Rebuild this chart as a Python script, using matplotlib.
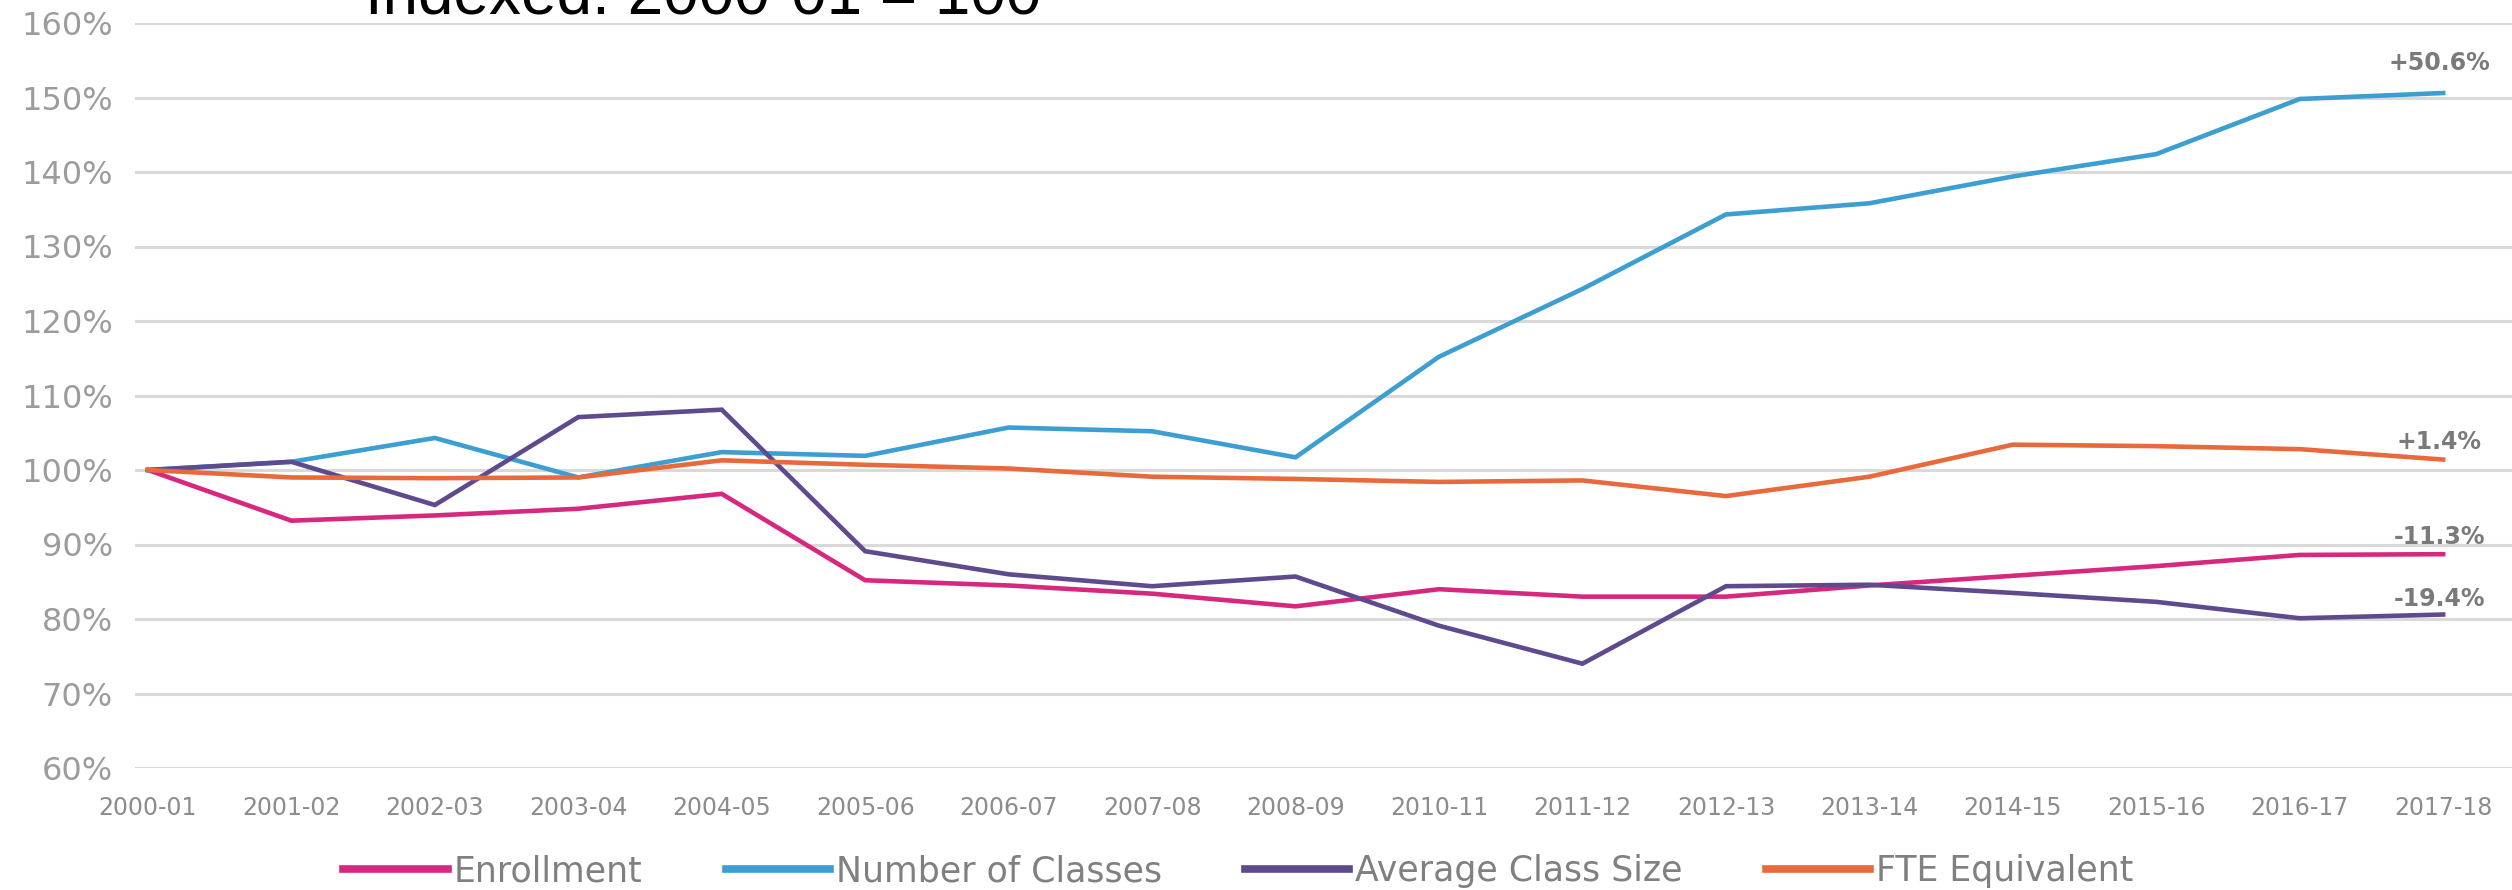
import matplotlib
matplotlib.use("Agg")
import matplotlib.pyplot as plt

# School years (2009-10 is not in the series)
years = ["2000-01", "2001-02", "2002-03", "2003-04", "2004-05", "2005-06",
         "2006-07", "2007-08", "2008-09", "2010-11", "2011-12", "2012-13",
         "2013-14", "2014-15", "2015-16", "2016-17", "2017-18"]

# Indexed values, 2000-01 = 100
enrollment = [100, 93.2, 93.9, 94.8, 96.8, 85.2, 84.5, 83.4, 81.7, 84.0,
              83.0, 83.0, 84.5, 85.8, 87.1, 88.6, 88.7]
num_classes = [100, 101.1, 104.3, 99.0, 102.4, 101.9, 105.7, 105.2, 101.7,
               115.2, 124.3, 134.3, 135.8, 139.4, 142.4, 149.8, 150.6]
avg_class_size = [100, 101.1, 95.3, 107.1, 108.1, 89.1, 86.0, 84.4, 85.7,
                  79.1, 74.0, 84.4, 84.6, 83.5, 82.3, 80.1, 80.6]
fte_equiv = [100, 99.0, 98.9, 99.0, 101.3, 100.7, 100.2, 99.1, 98.8, 98.4,
             98.6, 96.5, 99.1, 103.4, 103.2, 102.8, 101.4]

series_names = ["Enrollment", "Number of Classes", "Average Class Size", "FTE Equivalent"]
series_vals = [enrollment, num_classes, avg_class_size, fte_equiv]
series_colors = ["#d6287f", "#3d9fd1", "#5f4a8e", "#e86a3c"]
# vertical offset (px) of the end label above the last point
label_dy = [17, 30, 16, 18]

yticks = list(range(60, 161, 10))

fig = plt.figure(figsize=(25.12, 8.90), dpi=100)
ax = fig.add_axes([135/2512, 122/890, 1 - 135/2512, 745/890])

x = list(range(len(years)))
for name, vals, col, dy in zip(series_names, series_vals, series_colors, label_dy):
	ax.plot(x, vals, color=col, linewidth=3.3, solid_joinstyle="miter", zorder=3)
	change = vals[-1] - 100
	ax.annotate("%+.1f%%" % change, xy=(x[-1], vals[-1]), xytext=(-4, dy),
	            textcoords="offset pixels", ha="center", va="center",
	            fontsize=17, fontweight="bold", color="#7a7a7a", zorder=4)

ax.set_ylim(60, 160)
ax.set_xlim(-0.09, 16.48)
ax.set_yticks(yticks)
ax.set_yticklabels(["%d%%" % v for v in yticks])
ax.set_xticks(x)
ax.set_xticklabels(years)

ax.grid(axis="y", color="#d9d9d9", linewidth=2.2, zorder=0)
ax.grid(axis="x", visible=False)
for s in ax.spines.values():
	s.set_visible(False)
ax.tick_params(axis="y", length=0, pad=16, labelsize=23, labelcolor="#9c9c9c")
ax.tick_params(axis="x", length=0, pad=20, labelsize=17, labelcolor="#8c8c8c")

# Title sits partly above the top edge
fig.text(365/2512, 1 - 13/890, "Indexed: 2000-01 = 100", fontsize=46,
         family="Liberation Sans", color="black", va="baseline", ha="left")

leg_handles = [plt.Line2D([], [], color=c, linewidth=5.5) for c in series_colors]
leg = fig.legend(leg_handles, series_names, loc="center", bbox_to_anchor=(0.493, 0.021),
                 ncol=4, frameon=False, fontsize=25, handlelength=3.0,
                 handletextpad=0.17, columnspacing=2.4)
for t in leg.get_texts():
	t.set_color("#808080")

fig.savefig("out.png", dpi=100)
